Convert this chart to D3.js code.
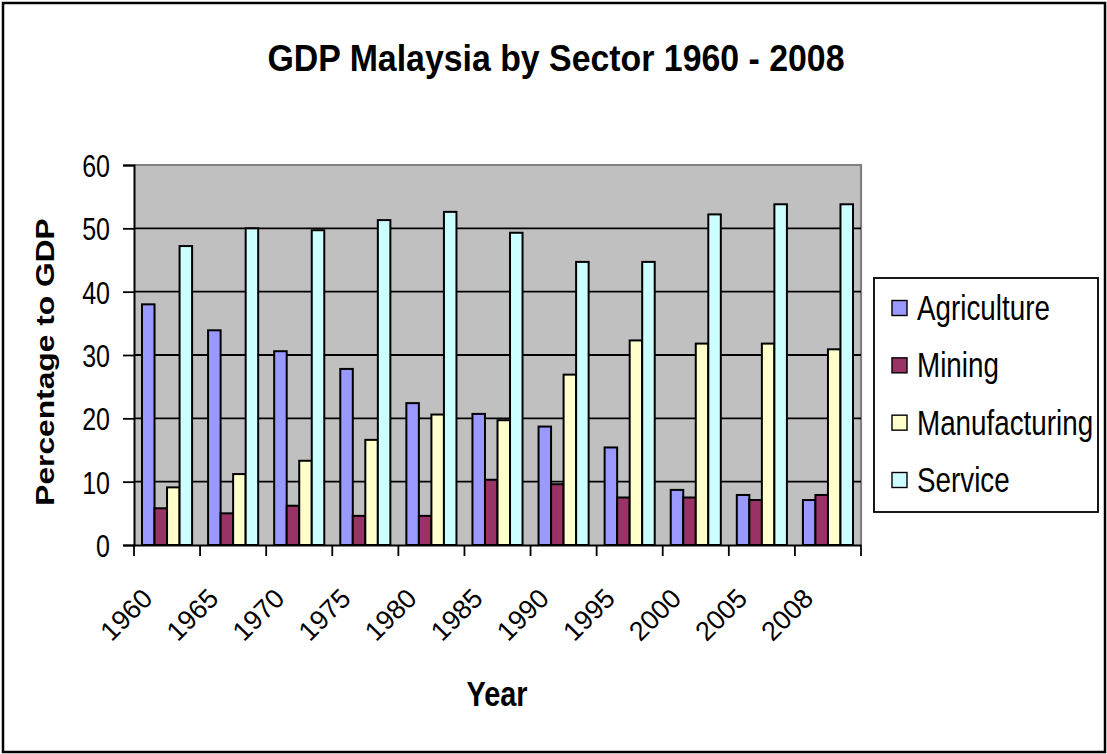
<!DOCTYPE html>
<html><head><meta charset="utf-8">
<script src="https://cdn.jsdelivr.net/npm/d3@7"></script>
<style>
html,body{margin:0;padding:0;background:#fff;}
svg{display:block;font-family:"Liberation Sans",Arial,sans-serif;}
</style></head>
<body>
<svg id="chart" width="1107" height="754"></svg>
<script>
const years = ["1960","1965","1970","1975","1980","1985","1990","1995","2000","2005","2008"];
const seriesNames = ["Agriculture","Mining","Manufacturing","Service"];
const agriculture   = [38.0, 33.9, 30.6, 27.8, 22.4, 20.7, 18.7, 15.4, 8.7, 7.9, 7.1];
const mining        = [5.8, 5.0, 6.2, 4.6, 4.6, 10.3, 9.6, 7.5, 7.5, 7.1, 7.9];
const manufacturing = [9.1, 11.2, 13.3, 16.6, 20.6, 19.7, 26.9, 32.3, 31.8, 31.8, 30.9];
const service       = [47.2, 50.0, 49.7, 51.3, 52.6, 49.3, 44.7, 44.7, 52.2, 53.8, 53.8];
const yTicks = [0, 10, 20, 30, 40, 50, 60];
const colors = ["#9999FF", "#993366", "#FFFFCC", "#CCFFFF"];
const seriesValues = [agriculture, mining, manufacturing, service];

const svg = d3.select("#chart");
const K = 1.27; // vertical text stretch seen in the reference

// outer border
svg.append("rect").attr("x", 3).attr("y", 3).attr("width", 1102).attr("height", 749)
  .attr("fill", "#fff").attr("stroke", "#000").attr("stroke-width", 2.5);

const L = 134, R = 861, T = 165, B = 545;
const x = d3.scaleBand().domain(years).range([L, R]).paddingInner(0).paddingOuter(0);
const inner = d3.scaleBand().domain(seriesNames).range([8, x.bandwidth() - 8]);
const y = d3.scaleLinear().domain([0, 60]).range([B, T]);

// plot background
svg.append("rect").attr("x", L).attr("y", T).attr("width", R - L).attr("height", B - T)
  .attr("fill", "#C0C0C0");
// gray top/right border
svg.append("path").attr("d", `M${L},${T}H${R}V${B}`).attr("fill", "none")
  .attr("stroke", "#808080").attr("stroke-width", 2.2);

// gridlines
svg.append("g").selectAll("line").data(yTicks.filter(d => d > 0 && d < 60)).join("line")
  .attr("x1", L).attr("x2", R).attr("y1", d => y(d)).attr("y2", d => y(d))
  .attr("stroke", "#000").attr("stroke-width", 1.8);

// bars
const groups = svg.append("g").selectAll("g").data(seriesNames).join("g")
  .attr("fill", (d, i) => colors[i]);
groups.each(function(s, si) {
  d3.select(this).selectAll("rect").data(seriesValues[si]).join("rect")
    .attr("x", (v, i) => x(years[i]) + inner(s))
    .attr("width", inner.bandwidth())
    .attr("y", v => y(v))
    .attr("height", v => y(0) - y(v))
    .attr("stroke", "#000").attr("stroke-width", 2);
});

// y axis
const yAxis = svg.append("g").attr("transform", `translate(${L},0)`)
  .call(d3.axisLeft(y).tickValues(yTicks).tickSize(11).tickFormat(""));
yAxis.select(".domain").attr("stroke", "#000").attr("stroke-width", 2);
yAxis.selectAll(".tick line").attr("stroke", "#000").attr("stroke-width", 1.8);
svg.append("g").selectAll("text").data(yTicks).join("text")
  .attr("transform", d => `translate(110,${y(d) + 12}) scale(1,${K})`)
  .attr("text-anchor", "end").attr("font-size", 25).attr("fill", "#000")
  .text(d => d);

// x axis
const xAxis = svg.append("g").attr("transform", `translate(0,${B})`)
  .call(d3.axisBottom(x).tickSize(0).tickFormat(""));
xAxis.select(".domain").attr("stroke", "#000").attr("stroke-width", 2.2);
xAxis.selectAll(".tick").remove();
const bounds = years.map(d => x(d)).concat([R]);
svg.append("g").selectAll("line").data(bounds).join("line")
  .attr("x1", d => d).attr("x2", d => d).attr("y1", B).attr("y2", B + 11)
  .attr("stroke", "#000").attr("stroke-width", 1.8);
svg.append("g").selectAll("text").data(years).join("text")
  .attr("transform", d => `translate(${x(d) + x.bandwidth() / 2 - 13},600) rotate(-45)`)
  .attr("text-anchor", "end").attr("font-size", 27).attr("fill", "#000")
  .text(d => d);

// title
svg.append("text").attr("x", 267.5).attr("y", 71).attr("font-size", 36).attr("font-weight", "bold")
  .attr("textLength", 577).attr("lengthAdjust", "spacingAndGlyphs")
  .text("GDP Malaysia by Sector 1960 - 2008");

// axis titles
svg.append("text").attr("transform", `translate(466.5,706) scale(1,${K})`)
  .attr("font-size", 28).attr("font-weight", "bold")
  .attr("textLength", 61).attr("lengthAdjust", "spacingAndGlyphs").text("Year");
svg.append("text").attr("transform", `translate(54,362) scale(1,${K}) rotate(-90)`)
  .attr("text-anchor", "middle").attr("font-size", 25).attr("font-weight", "bold")
  .text("Percentage to GDP");

// legend
const lg = svg.append("g");
lg.append("rect").attr("x", 874).attr("y", 278).attr("width", 224).attr("height", 234)
  .attr("fill", "#fff").attr("stroke", "#000").attr("stroke-width", 1.8);
const ly = d3.scalePoint().domain(seriesNames).range([308, 480]);
lg.selectAll("rect.sw").data(seriesNames).join("rect").attr("class", "sw")
  .attr("x", 892).attr("y", d => ly(d) - 7.5).attr("width", 15).attr("height", 15)
  .attr("fill", (d, i) => colors[i]).attr("stroke", "#000").attr("stroke-width", 1.4);
lg.selectAll("text").data(seriesNames).join("text")
  .attr("transform", d => `translate(917,${ly(d) + 12}) scale(1,${K})`)
  .attr("font-size", 27.8).attr("fill", "#000").text(d => d);
</script>
</body></html>
